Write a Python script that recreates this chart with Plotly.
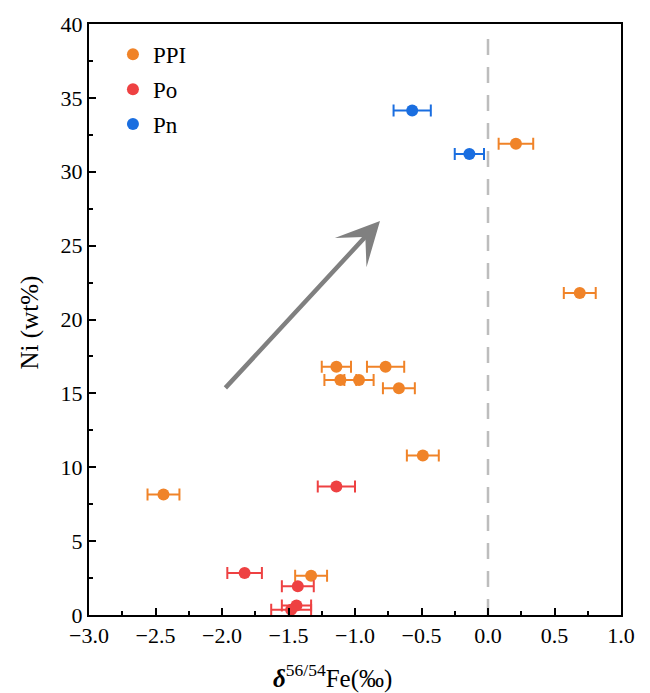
import plotly.graph_objects as go

# Iron isotope composition vs. nickel content, by sulfide phase
ppi_fe = [0.21, 0.69, -1.14, -0.77, -1.11, -0.97, -0.67, -0.49, -2.44, -1.33]
ppi_ni = [31.9, 21.8, 16.8, 16.8, 15.9, 15.9, 15.35, 10.8, 8.15, 2.65]
ppi_err = [0.13, 0.12, 0.11, 0.14, 0.12, 0.11, 0.12, 0.12, 0.12, 0.12]

po_fe = [-1.14, -1.83, -1.43, -1.44, -1.48]
po_ni = [8.7, 2.85, 1.95, 0.65, 0.35]
po_err = [0.14, 0.13, 0.12, 0.11, 0.15]

pn_fe = [-0.57, -0.14]
pn_ni = [34.15, 31.2]
pn_err = [0.14, 0.11]

x_ticks = [-3.0, -2.5, -2.0, -1.5, -1.0, -0.5, 0.0, 0.5, 1.0]
y_ticks = [0, 5, 10, 15, 20, 25, 30, 35, 40]

# trend arrow (start -> end, data units)
arrow_start = (-1.985, 15.27)
arrow_end = (-0.812, 26.67)

FONT = "Liberation Serif"
series = [
    ("PPI", ppi_fe, ppi_ni, ppi_err, "#F08328"),
    ("Po", po_fe, po_ni, po_err, "#EE4142"),
    ("Pn", pn_fe, pn_ni, pn_err, "#1A6EE0"),
]

fig = go.Figure()
for name, xs, ys, es, col in series:
    fig.add_trace(go.Scatter(
        x=xs, y=ys, mode="markers", name=name, legendgroup=name,
        marker=dict(color=col, size=12, line=dict(width=0)),
        error_x=dict(type="data", array=es, visible=True, color=col,
                     thickness=2, width=6),
        cliponaxis=False,
    ))

fig.add_shape(type="line", xref="x", yref="y", x0=0, x1=0, y0=0, y1=39.2,
              line=dict(color="#BDBDBD", width=2.5, dash="16px,12px"),
              layer="below")

fig.add_annotation(x=arrow_end[0], y=arrow_end[1], ax=arrow_start[0],
                   ay=arrow_start[1], xref="x", yref="y", axref="x",
                   ayref="y", showarrow=True, arrowhead=3, arrowsize=1.6,
                   arrowwidth=4.5, arrowcolor="#808080", text="")

fig.add_annotation(x=0.4586, y=-0.135, xref="paper", yref="paper",
                   text="<b><i>δ</i></b><sup>56/54</sup>Fe(‰)",
                   showarrow=False, font=dict(family=FONT, size=25,
                                                  color="black"))
fig.add_annotation(x=-0.141, y=0.495, xref="paper", yref="paper",
                   text="Ni (wt%)", textangle=-90, showarrow=False,
                   font=dict(family=FONT, size=25, color="black"))

axis_common = dict(showline=True, linecolor="black", linewidth=2,
                   mirror=True, ticks="inside", ticklen=7, tickwidth=1.5,
                   tickcolor="black", showgrid=False, zeroline=False,
                   tickfont=dict(family=FONT, size=22, color="black"))

fig.update_xaxes(range=[-3.0, 1.0], tickvals=x_ticks,
                 ticktext=[f"{v:.1f}".replace("-", "\u2212") for v in x_ticks],
                 minor=dict(ticks="inside", dtick=0.25, tick0=0, ticklen=4,
                            tickcolor="black", tickwidth=1.5),
                 **axis_common)
fig.update_yaxes(range=[0, 40], tickvals=y_ticks,
                 minor=dict(ticks="inside", dtick=2.5, tick0=0, ticklen=4,
                            tickcolor="black", tickwidth=1.5),
                 **axis_common)

fig.update_layout(
    width=650, height=693,
    margin=dict(l=89, r=29, t=21, b=78),
    paper_bgcolor="white", plot_bgcolor="white",
    showlegend=True,
    legend=dict(x=0.045, y=0.985, xanchor="left", yanchor="top",
                bgcolor="rgba(0,0,0,0)", tracegroupgap=2,
                font=dict(family=FONT, size=23, color="black")),
)

fig.write_html("out.html")
